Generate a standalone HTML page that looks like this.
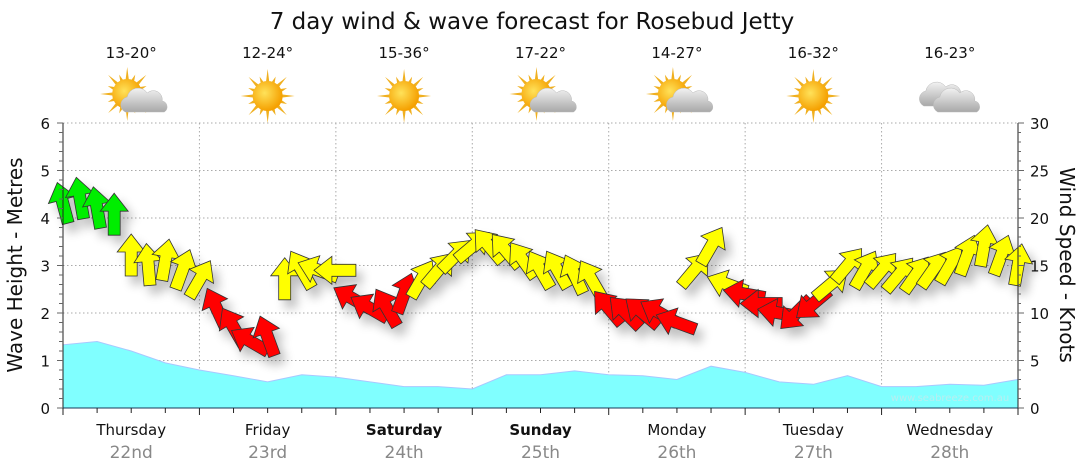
<!DOCTYPE html>
<html><head><meta charset="utf-8"><style>
body{margin:0;background:#fff;}
svg{display:block;font-family:"DejaVu Sans","Liberation Sans",sans-serif;}
</style></head><body>
<svg id="c" width="1080" height="475" viewBox="0 0 1080 475">
<defs>
<radialGradient id="sunG" cx="0.4" cy="0.4" r="0.6"><stop offset="0" stop-color="#ffe25a"/><stop offset="1" stop-color="#f5a000"/></radialGradient>
<linearGradient id="cloudG" x1="0" y1="0" x2="0" y2="1"><stop offset="0" stop-color="#f2f2f2"/><stop offset="1" stop-color="#a8a8a8"/></linearGradient>
<filter id="sh" x="-50%" y="-50%" width="200%" height="200%"><feGaussianBlur in="SourceAlpha" stdDeviation="5"/><feOffset dx="6" dy="8"/><feComponentTransfer><feFuncA type="linear" slope="0.25"/></feComponentTransfer><feMerge><feMergeNode/><feMergeNode in="SourceGraphic"/></feMerge></filter>
</defs>
<text x="532" y="29" font-size="23" text-anchor="middle" fill="#111">7 day wind &amp; wave forecast for Rosebud Jetty</text>
<g id="grid"></g><g id="wave"></g><g id="arrows" filter="url(#sh)"></g><g id="axes"></g><g id="top"></g>
<text x="950" y="401" font-size="10" fill="#b8eef0" text-anchor="middle">www.seabreeze.com.au</text>
<text transform="translate(22,265) rotate(-90)" font-size="20" text-anchor="middle" fill="#111">Wave Height - Metres</text>
<text transform="translate(1060,265) rotate(90)" font-size="20" text-anchor="middle" fill="#111">Wind Speed - Knots</text>
</svg>
<script>
const days=["Thursday","Friday","Saturday","Sunday","Monday","Tuesday","Wednesday"];
const dates=["22nd","23rd","24th","25th","26th","27th","28th"];
const boldDays=[false,false,true,true,false,false,false];
const temps=["13-20°","12-24°","15-36°","17-22°","14-27°","16-32°","16-23°"];
const icons=["suncloud","sun","sun","suncloud","suncloud","sun","cloud"];
const waveHeights=[1.33,1.4,1.2,0.95,0.8,0.68,0.55,0.7,0.65,0.55,0.45,0.45,0.4,0.7,0.7,0.78,0.7,0.68,0.6,0.88,0.75,0.55,0.5,0.68,0.45,0.45,0.5,0.48,0.6];
const windKnots=[21.5,22,21,20.3,16,15,15.5,14.5,13.5,10.5,8.5,7,7.5,13.5,14.5,14.5,14.5,11.5,10.5,10.5,12,13.5,14.5,16,17,17,16.5,15.5,14.5,14.5,14,13.5,10.5,10,10,10,9,14.5,17,13,12,11,10,10,11,13,15,14.5,14.5,14,14,14.5,15,16,17,16,15];
const windDir=[-15,-10,-10,0,0,-5,10,20,30,-25,-30,-60,-20,0,-30,-70,-90,-60,-60,-30,20,30,40,45,50,-40,-40,-35,-30,-30,-25,-30,-40,-45,-50,-60,-70,40,30,-70,-80,-90,-80,-135,-130,50,40,30,40,40,35,35,30,20,10,20,10];
const waveTicks=[0,1,2,3,4,5,6];
const windTicks=[0,5,10,15,20,25,30];
const X0=63,X1=1018,Y0=408,Y1=123;
const xH=h=>X0+h*(X1-X0)/168;
const yM=m=>Y0-m*(Y0-Y1)/6;
const yK=k=>Y0-k*(Y0-Y1)/30;
const NS="http://www.w3.org/2000/svg";
function mk(p,t,a){const e=document.createElementNS(NS,t);for(const k in a)e.setAttribute(k,a[k]);p.appendChild(e);return e;}
const G=id=>document.getElementById(id);
const grid=G('grid');
waveTicks.slice(1).forEach(m=>{const l=mk(grid,'line',{x1:X0,x2:X1,y1:yM(m),y2:yM(m),stroke:'#aaa','stroke-dasharray':'1.5,2.5'});

});
for(let d=1;d<7;d++){const l=mk(grid,'line',{x1:xH(d*24),x2:xH(d*24),y1:Y1,y2:Y0,stroke:'#aaa','stroke-dasharray':'1.5,2.5'});

}
let d='M'+xH(0)+','+Y0;
waveHeights.forEach((m,i)=>{d+=' L'+xH(i*6).toFixed(1)+','+yM(m).toFixed(1);});
d+=' L'+xH(168)+','+Y0+' Z';
const wp=mk(G('wave'),'path',{d:d,fill:'#80ffff',stroke:'#a8c8ff','stroke-width':1});


const ar=G('arrows');
const shape="M0,-22 L14,-4 L6,-4 L6,20 L-6,20 L-6,-4 L-14,-4 Z";
windKnots.forEach((k,i)=>{const col=k>=20?'#00ee00':(k>=12.5?'#ffff00':'#ff0000');
const p=mk(ar,'path',{d:shape,fill:col,stroke:'#333','stroke-width':0.8,transform:`translate(${xH(i*3).toFixed(1)},${yK(k).toFixed(1)}) rotate(${windDir[i]})`});

});
const ax=G('axes');
mk(ax,'line',{x1:X0,x2:X0,y1:Y1,y2:Y0,stroke:'#222'});
mk(ax,'line',{x1:X1,x2:X1,y1:Y1,y2:Y0,stroke:'#222'});
mk(ax,'line',{x1:X0,x2:X1,y1:Y0,y2:Y0,stroke:'#1a3a5a'});
for(let m=0;m<=6.001;m+=0.2){mk(ax,'line',{x1:X0-((Math.abs(m-Math.round(m))<0.01)?6:4),x2:X0,y1:yM(m),y2:yM(m),stroke:'#666'});}
for(let k=0;k<=30;k++){mk(ax,'line',{x1:X1,x2:X1+(k%5==0?6:3),y1:yK(k),y2:yK(k),stroke:'#666'});}
for(let h=0;h<=168;h+=6){mk(ax,'line',{x1:xH(h),x2:xH(h),y1:Y0,y2:Y0+(h%24==0?7:5),stroke:'#222'});}
waveTicks.forEach(m=>{const t=mk(ax,'text',{x:50,y:yM(m)+6,'font-size':15,'text-anchor':'end',fill:'#111'});t.textContent=m;

});
windTicks.forEach(k=>{const t=mk(ax,'text',{x:1030,y:yK(k)+6,'font-size':15,fill:'#111'});t.textContent=k;

});
days.forEach((n,i)=>{const cx=xH(i*24+12);
const t=mk(ax,'text',{x:cx,y:435,'font-size':15,'text-anchor':'middle',fill:'#111','font-weight':boldDays[i]?'bold':'normal'});t.textContent=n;


const t2=mk(ax,'text',{x:cx,y:458,'font-size':17,'text-anchor':'middle',fill:'#888'});t2.textContent=dates[i];

});
const tp=G('top');
function sun(g,x,y){for(let a=0;a<360;a+=22.5){const r=(a%45==0)?27:21;const rad=a*Math.PI/180;
mk(g,'polygon',{points:`${x+Math.cos(rad)*r},${y+Math.sin(rad)*r} ${x+Math.cos(rad+0.12)*14},${y+Math.sin(rad+0.12)*14} ${x+Math.cos(rad-0.12)*14},${y+Math.sin(rad-0.12)*14}`,fill:'#f0b020'});}
mk(g,'circle',{cx:x,cy:y,r:15,fill:'url(#sunG)'});}
function cloud(g,x,y){mk(g,'path',{d:`M${x-20},${y+12} a8,8 0 0 1 2,-15 a11,11 0 0 1 20,-4 a9,9 0 0 1 15,8 a6,6 0 0 1 2,11 Z`,fill:'url(#cloudG)',stroke:'#bbb','stroke-width':0.5});}
temps.forEach((s,i)=>{const cx=xH(i*24+12);
const t=mk(tp,'text',{x:cx,y:58,'font-size':15,'text-anchor':'middle',fill:'#111'});t.textContent=s;


const g=mk(tp,'g',{});


if(icons[i]=='sun')sun(g,cx,96);
else if(icons[i]=='suncloud'){sun(g,cx-4,94);cloud(g,cx+14,100);}
else{cloud(g,cx-6,94);cloud(g,cx+8,100);}});
</script>
</body></html>
